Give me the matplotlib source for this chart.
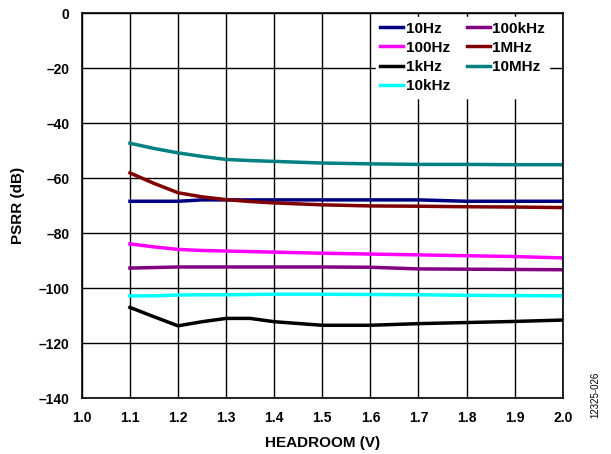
import matplotlib
matplotlib.use("Agg")
import matplotlib.pyplot as plt

plt.rcParams['font.family'] = ['Liberation Sans', 'DejaVu Sans']

headroom = [1.1, 1.15, 1.2, 1.25, 1.3, 1.35, 1.4, 1.5, 1.6, 1.7, 1.8, 1.9, 2.0]

psrr_10hz = [-68.4, -68.4, -68.4, -67.9, -67.9, -67.9, -67.9, -67.9, -67.9, -67.9, -68.4, -68.4, -68.4]
psrr_100hz = [-83.9, -85.0, -85.9, -86.3, -86.5, -86.7, -86.9, -87.3, -87.6, -87.9, -88.2, -88.5, -89.0]
psrr_1khz = [-107.0, -110.4, -113.7, -112.2, -111.0, -111.0, -112.2, -113.5, -113.5, -112.9, -112.5, -112.1, -111.6]
psrr_10khz = [-102.8, -102.8, -102.5, -102.4, -102.4, -102.3, -102.2, -102.2, -102.3, -102.4, -102.6, -102.7, -102.8]
psrr_100khz = [-92.7, -92.5, -92.3, -92.3, -92.3, -92.3, -92.3, -92.3, -92.4, -93.0, -93.1, -93.2, -93.3]
psrr_1mhz = [-58.1, -61.9, -65.3, -66.8, -67.8, -68.5, -69.0, -69.7, -70.1, -70.2, -70.4, -70.5, -70.7]
psrr_10mhz = [-47.3, -49.2, -50.8, -52.1, -53.2, -53.6, -53.9, -54.5, -54.8, -55.0, -55.0, -55.1, -55.1]

labels = ['10Hz', '100Hz', '1kHz', '10kHz', '100kHz', '1MHz', '10MHz']
colors = ['#000080', '#ff00ff', '#000000', '#00ffff', '#800080', '#800000', '#008080']
series = [psrr_10hz, psrr_100hz, psrr_1khz, psrr_10khz, psrr_100khz, psrr_1mhz, psrr_10mhz]

fig = plt.figure(figsize=(6.11, 4.54), dpi=100)
ax = fig.add_axes([0.134, 0.123, 0.787, 0.848])

for y, c, lab in zip(series, colors, labels):
    ax.plot(headroom, y, color=c, lw=2.5, label=lab)

ax.set_xlim(1.0, 2.0)
ax.set_ylim(-140, 0)
ax.set_xticks([1.0 + 0.1 * i for i in range(11)])
ax.set_yticks(range(-140, 1, 20))
ax.set_yticklabels([str(v).replace('-', '\u2013') for v in range(-140, 1, 20)])
ax.grid(True, color='black', lw=1)
for s in ax.spines.values():
    s.set_linewidth(1.2)
ax.tick_params(labelsize=10, length=0, pad=9)
for t in ax.get_xticklabels() + ax.get_yticklabels():
    t.set_fontweight('bold')
ax.set_xlabel('HEADROOM (V)', fontsize=11, fontweight='bold', labelpad=8)
ax.set_ylabel('PSRR (dB)', fontsize=11, fontweight='bold', labelpad=10)

leg = ax.legend(loc='upper right', bbox_to_anchor=(0.972, 0.99), ncol=2,
                frameon=True, fancybox=False,
                prop={'weight': 'bold', 'size': 11}, handlelength=1.5,
                handletextpad=0.15, columnspacing=1.1, labelspacing=0.34,
                borderaxespad=0, borderpad=0.3)
leg.get_frame().set_edgecolor('white')
leg.get_frame().set_alpha(1)

fig.text(0.975, 0.08, '12325-026', rotation=90, fontsize=7, ha='center', va='bottom')

fig.savefig('out.png', dpi=100)
